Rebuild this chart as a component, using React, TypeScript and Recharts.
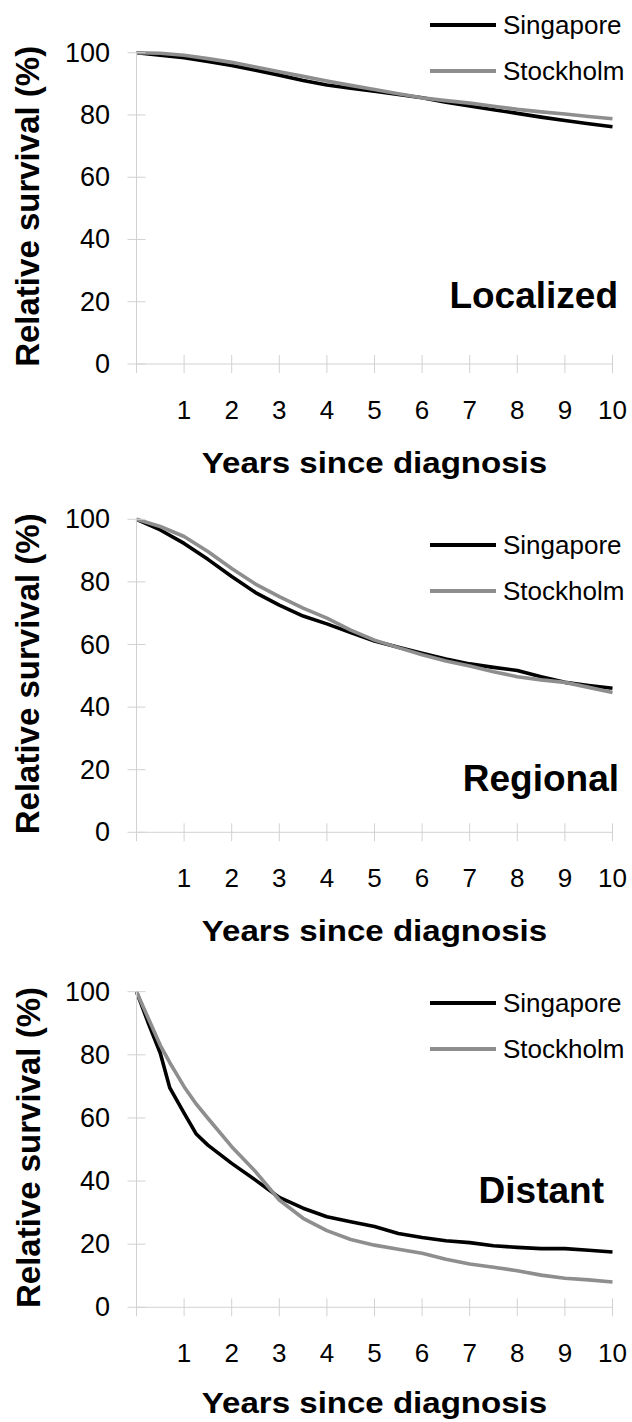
import React from "react";
import { LineChart, Line, XAxis, YAxis, Legend, Customized } from "recharts";

// ─── Data (relative survival, %) ───────────────────────────────────────────

const LOCALIZED_YEARS = [0, 0.5, 1, 1.5, 2, 2.5, 3, 3.5, 4, 4.5, 5, 5.5, 6, 6.5, 7, 7.5, 8, 8.5, 9, 9.5, 10];
const LOCALIZED_SINGAPORE = [100, 99.2, 98.4, 97.2, 95.9, 94.4, 92.8, 91.1, 89.6, 88.6, 87.6, 86.6, 85.5, 84.1, 82.9, 81.7, 80.5, 79.3, 78.2, 77.2, 76.2];
const LOCALIZED_STOCKHOLM = [100, 99.8, 99.2, 98.1, 96.9, 95.4, 93.9, 92.4, 90.9, 89.5, 88.2, 86.8, 85.5, 84.6, 83.8, 82.8, 81.8, 81.0, 80.3, 79.5, 78.8];

const REGIONAL_YEARS = [0, 0.5, 1, 1.5, 2, 2.5, 3, 3.5, 4, 4.5, 5, 5.5, 6, 6.5, 7, 7.5, 8, 8.5, 9, 9.5, 10];
const REGIONAL_SINGAPORE = [100, 96.6, 92.3, 87.2, 81.7, 76.6, 72.6, 69.1, 66.6, 63.8, 61.1, 59.1, 57.2, 55.4, 53.8, 52.7, 51.7, 49.7, 47.9, 46.9, 46.0];
const REGIONAL_STOCKHOLM = [100, 97.7, 94.5, 89.7, 84.3, 79.3, 75.3, 71.6, 68.4, 64.6, 61.4, 59.0, 56.7, 54.7, 53.1, 51.3, 49.7, 48.7, 47.9, 46.3, 44.7];

const DISTANT_YEARS = [0, 0.25, 0.5, 0.7, 1, 1.25, 1.5, 2, 2.5, 3, 3.5, 4, 4.5, 5, 5.5, 6, 6.5, 7, 7.5, 8, 8.5, 9, 9.5, 10];
const DISTANT_SINGAPORE = [100, 90, 80.5, 69.5, 61.5, 55, 51.4, 45.6, 40.3, 34.8, 31.4, 28.7, 27.1, 25.6, 23.4, 22.1, 21.1, 20.5, 19.5, 19.0, 18.6, 18.6, 18.1, 17.5];
const DISTANT_STOCKHOLM = [100, 91.5, 83, 77.5, 69.9, 64.5, 59.9, 50.9, 43, 34, 28.2, 24.3, 21.5, 19.7, 18.4, 17.1, 15.2, 13.7, 12.7, 11.6, 10.2, 9.2, 8.7, 8.0];

const X_TICKS = [0, 1, 2, 3, 4, 5, 6, 7, 8, 9, 10];
const Y_TICKS = [0, 20, 40, 60, 80, 100];

// ─── Styling ───────────────────────────────────────────────────────────────

const FONT = '"Liberation Sans", Arial, Helvetica, sans-serif';
const AXIS_COLOR = "#d2d2d2";
const SERIES = [
  { key: "singapore", name: "Singapore", color: "#000000" },
  { key: "stockholm", name: "Stockholm", color: "#8e8e8e" },
];

const WIDTH = 632;
const PLOT_LEFT = 136.5;
const PLOT_RIGHT = 612.5;
const Y_AXIS_WIDTH = 60;

function buildRows(years: number[], singapore: number[], stockholm: number[]) {
  return years.map((year, i) => ({ year, singapore: singapore[i], stockholm: stockholm[i] }));
}

// charts overlap a little (transparent svg) so the x titles are never clipped
const PANELS = [
  {
    name: "Localized",
    rows: buildRows(LOCALIZED_YEARS, LOCALIZED_SINGAPORE, LOCALIZED_STOCKHOLM),
    top: 0, height: 500, plotTop: 52.7, plotBottom: 364,
    legendY: 25, labelX: 618, labelY: 295, titleOffset: 99,
  },
  {
    name: "Regional",
    rows: buildRows(REGIONAL_YEARS, REGIONAL_SINGAPORE, REGIONAL_STOCKHOLM),
    top: 480, height: 495, plotTop: 519.3, plotBottom: 832.3,
    legendY: 545, labelX: 619, labelY: 778, titleOffset: 99,
  },
  {
    name: "Distant",
    rows: buildRows(DISTANT_YEARS, DISTANT_SINGAPORE, DISTANT_STOCKHOLM),
    top: 960, height: 462, plotTop: 991.7, plotBottom: 1307.3,
    legendY: 1003, labelX: 604, labelY: 1190, titleOffset: 96,
  },
];

// ─── Axis pieces ───────────────────────────────────────────────────────────

function XTick({ x, y, payload }: any) {
  return (
    <g>
      <line x1={x} x2={x} y1={y - 9} y2={y + 9} stroke={AXIS_COLOR} strokeWidth={1} />
      {payload.value !== 0 && (
        <text x={x} y={y + 46} textAnchor="middle" dominantBaseline="central"
          fontSize={26} fill="#000" fontFamily={FONT}>
          {payload.value}
        </text>
      )}
    </g>
  );
}

function YTick({ x, y, payload }: any) {
  return (
    <g>
      <line x1={x - 9} x2={x + 9} y1={y} y2={y} stroke={AXIS_COLOR} strokeWidth={1} />
      <text x={x - 26.5} y={y} textAnchor="end" dominantBaseline="central"
        fontSize={27} fill="#000" fontFamily={FONT}>
        {payload.value}
      </text>
    </g>
  );
}

function SurvivalLegend() {
  return (
    <div style={{ fontFamily: FONT }}>
      {SERIES.map((s) => (
        <div key={s.key} style={{ display: "flex", alignItems: "center", height: 46 }}>
          <span style={{ display: "inline-block", width: 66, height: 4, background: s.color, marginRight: 7 }} />
          <span style={{ fontSize: 26, color: "#000", lineHeight: "46px", whiteSpace: "nowrap" }}>{s.name}</span>
        </div>
      ))}
    </div>
  );
}

// ─── Panel ─────────────────────────────────────────────────────────────────

function SurvivalPanel({ panel }: { panel: (typeof PANELS)[number] }) {
  const marginTop = panel.plotTop - panel.top;
  const xAxisHeight = panel.height - (panel.plotBottom - panel.top);
  const plotMid = (panel.plotTop + panel.plotBottom) / 2 - panel.top;

  return (
    <div style={{ position: "absolute", left: 0, top: panel.top }}>
      <LineChart
        width={WIDTH}
        height={panel.height}
        data={panel.rows}
        margin={{ top: marginTop, right: WIDTH - PLOT_RIGHT, bottom: 0, left: PLOT_LEFT - Y_AXIS_WIDTH }}
      >
        <XAxis
          dataKey="year"
          type="number"
          domain={[0, 10]}
          ticks={X_TICKS}
          interval={0}
          height={xAxisHeight}
          axisLine={{ stroke: AXIS_COLOR, strokeWidth: 1 }}
          tickLine={false}
          tickSize={0}
          tickMargin={0}
          tick={<XTick />}
          label={(props: any) => {
            const vb = props.viewBox || {};
            const cx = (PLOT_LEFT + PLOT_RIGHT) / 2;
            const cy = (vb.y ?? 0) + panel.titleOffset;
            return (
              <text transform={`translate(${cx}, ${cy}) scale(1.14, 1)`} x={0} y={0} textAnchor="middle"
                dominantBaseline="central" fontSize={29} fontWeight="bold" fill="#000" fontFamily={FONT}>
                Years since diagnosis
              </text>
            );
          }}
        />
        <YAxis
          type="number"
          domain={[0, 100]}
          ticks={Y_TICKS}
          interval={0}
          width={Y_AXIS_WIDTH}
          axisLine={{ stroke: AXIS_COLOR, strokeWidth: 1 }}
          tickLine={false}
          tickSize={0}
          tickMargin={0}
          tick={<YTick />}
          label={() => (
            <text x={28} y={plotMid - 2} transform={`rotate(-90, 28, ${plotMid - 2})`} textAnchor="middle"
              dominantBaseline="central" fontSize={33} fontWeight="bold" fill="#000" fontFamily={FONT}>
              Relative survival (%)
            </text>
          )}
        />
        <Legend
          layout="horizontal"
          verticalAlign="middle"
          align="center"
          content={() => <SurvivalLegend />}
          wrapperStyle={{ left: 430, top: panel.legendY - panel.top - 23, width: 200 }}
        />
        {SERIES.map((s) => (
          <Line
            key={s.key}
            type="linear"
            dataKey={s.key}
            name={s.name}
            stroke={s.color}
            strokeWidth={3.6}
            strokeLinejoin="round"
            dot={false}
            isAnimationActive={false}
          />
        ))}
        <Customized
          component={() => (
            <text x={panel.labelX} y={panel.labelY - panel.top} textAnchor="end" dominantBaseline="central"
              fontSize={37} fontWeight="bold" fill="#000" fontFamily={FONT}>
              {panel.name}
            </text>
          )}
        />
      </LineChart>
    </div>
  );
}

export default function App() {
  return (
    <div style={{ position: "absolute", left: 0, top: 0, width: WIDTH, height: 1422, background: "#fff", overflow: "hidden" }}>
      {PANELS.map((p) => (
        <SurvivalPanel key={p.name} panel={p} />
      ))}
    </div>
  );
}
